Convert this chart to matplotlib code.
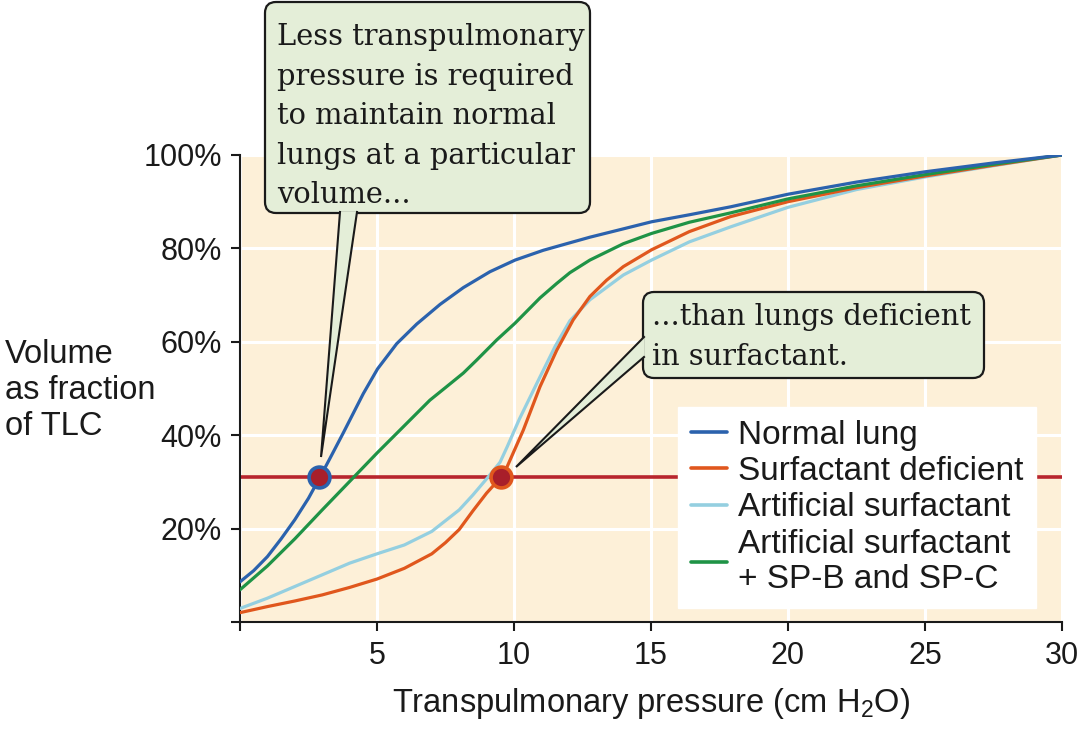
import matplotlib
matplotlib.use("Agg")
import matplotlib.pyplot as plt
from matplotlib.patches import FancyBboxPatch, Polygon
from matplotlib.lines import Line2D
from matplotlib.transforms import Affine2D

# ---------------- data ----------------
normal_x = [0, 0.5, 1, 1.5, 2, 2.5, 2.9, 3.28, 3.77, 4.1, 4.5, 5.02, 5.72, 6.45, 7.3, 8.15, 9.12, 10.04,
            11.07, 12.04, 12.77, 14, 15.02, 16.4, 17.9, 20, 22.5, 25, 27.5, 30]
normal_y = [8.6, 11, 14, 17.8, 21.9, 26.5, 30.8, 35.0, 40.5, 44.3, 48.9, 54.2, 59.6, 63.8, 68.0, 71.6, 75.0, 77.5,
            79.6, 81.2, 82.4, 84.2, 85.7, 87.2, 88.9, 91.6, 94.2, 96.4, 98.3, 100]

deficient_x = [0, 1, 2, 3, 4, 5, 6, 7, 7.5, 8, 8.5, 9, 9.54, 9.73, 10.34, 10.95, 11.56, 12.16, 12.77,
               13.38, 13.99, 15.02, 16.4, 17.9, 20, 22.5, 25, 27.5, 30]
deficient_y = [2, 3.3, 4.5, 5.8, 7.4, 9.2, 11.5, 14.6, 17, 19.8, 23.8, 27.6, 31.1, 33, 41.1, 50.4, 58.2, 64.7, 69.7,
               73.2, 76.1, 79.7, 83.6, 86.8, 90, 93, 95.5, 97.8, 100]

artificial_x = [0, 1, 2, 3, 4, 5, 6, 7, 8, 8.5, 9.05, 9.49, 9.75, 10.2, 10.95, 11.5, 12.04, 12.77,
                13.99, 15.02, 16.4, 17.9, 20, 22.5, 25, 27.5, 30]
artificial_y = [2.9, 5.1, 7.6, 10.1, 12.6, 14.6, 16.5, 19.4, 24, 27.2, 31, 34.2, 37.5, 43.5, 52.5, 59, 64.5, 69,
                74.3, 77.5, 81.4, 84.6, 88.8, 92.6, 95.3, 97.7, 100]

spbc_x = [0, 1, 2, 3, 4.15, 5.02, 5.72, 6.93, 7.5, 8.15, 8.64, 9.37, 10.04, 10.95, 11.56, 12.04, 12.77,
          13.99, 15.02, 16.4, 17.9, 20, 22.5, 25, 27.5, 30]
spbc_y = [6.9, 12, 17.8, 24, 31, 36.3, 40.4, 47.5, 50.2, 53.3, 56.1, 60.4, 64, 69.4, 72.5, 74.8, 77.5,
          81, 83.2, 85.6, 87.6, 90.6, 93.4, 95.8, 98, 100]

reference_volume = 31
marker_x = [2.9, 9.54]
marker_edges = ["#2b62ad", "#e0571d"]

series_labels = ["Normal lung", "Surfactant deficient", "Artificial surfactant",
                 "Artificial surfactant\n+ SP-B and SP-C"]
x_ticks = [0, 5, 10, 15, 20, 25, 30]
x_tick_labels = ["", "5", "10", "15", "20", "25", "30"]
y_ticks = [0, 20, 40, 60, 80, 100]
y_tick_labels = ["", "20%", "40%", "60%", "80%", "100%"]

callout1_lines = ["Less transpulmonary", "pressure is required", "to maintain normal",
                  "lungs at a particular", "volume..."]
callout2_lines = ["...than lungs deficient", "in surfactant."]

# ---------------- style ----------------
plt.rcParams['font.family'] = ['Liberation Sans', 'DejaVu Sans']
plt.rcParams['mathtext.fontset'] = 'custom'
plt.rcParams['mathtext.rm'] = 'Liberation Sans'
plt.rcParams['mathtext.it'] = 'Liberation Sans:italic'
plt.rcParams['mathtext.bf'] = 'Liberation Sans:bold'

W, H = 1080, 731
fig = plt.figure(figsize=(W / 100, H / 100), dpi=100)
fig.patch.set_facecolor("white")

x0, x1, ytop, ybot = 240, 1062, 155, 622
ax = fig.add_axes([x0 / W, (H - ybot) / H, (x1 - x0) / W, (ybot - ytop) / H])
ax.set_facecolor("#fdf0d8")
ax.set_xlim(0, 30)
ax.set_ylim(0, 100)

ax.set_xticks(x_ticks)
ax.set_xticklabels(x_tick_labels)
ax.set_yticks(y_ticks)
ax.set_yticklabels(y_tick_labels)
ax.grid(True, color="white", linewidth=2.2, zorder=0)
ax.set_axisbelow(True)
for s in ["top", "right"]:
    ax.spines[s].set_visible(False)
for s in ["left", "bottom"]:
    ax.spines[s].set_linewidth(1.5)
    ax.spines[s].set_color("#1a1a1a")
ax.tick_params(axis="both", direction="out", length=6.5, width=1.5, colors="#1a1a1a",
               labelsize=22, labelcolor="#1a1a1a")
ax.tick_params(axis="y", pad=6.5)
ax.tick_params(axis="x", pad=7)

ax.axhline(reference_volume, color="#b8252d", linewidth=2.6, zorder=2)

colors = ["#2b62ad", "#e0571d", "#94cfe0", "#1f9346"]
lw = 2.3
kw = dict(lw=lw, solid_capstyle="round", solid_joinstyle="round")
l_art, = ax.plot(artificial_x, artificial_y, color=colors[2], zorder=3, **kw)
l_def, = ax.plot(deficient_x, deficient_y, color=colors[1], zorder=4, **kw)
l_sp, = ax.plot(spbc_x, spbc_y, color=colors[3], zorder=4, **kw)
l_norm, = ax.plot(normal_x, normal_y, color=colors[0], zorder=5, **kw)

for mx, ec in zip(marker_x, marker_edges):
    ax.plot([mx], [reference_volume], marker="o", markersize=15, markerfacecolor="#a81f2a",
            markeredgecolor=ec, markeredgewidth=2.6, zorder=6, clip_on=False)

ax.set_xlabel(r"Transpulmonary pressure (cm H$_\mathrm{2}$O)", fontsize=23.5, color="#1a1a1a")
ax.xaxis.set_label_coords(0.5, -0.137)
ax.set_ylabel("Volume\nas fraction\nof TLC", fontsize=23.5, rotation=0, ha="left", va="center",
              multialignment="left", color="#1a1a1a", linespacing=1.22)
ax.yaxis.set_label_coords(-0.286, 0.496)

leg = ax.legend([l_norm, l_def, l_art, l_sp], series_labels, loc="upper left",
                bbox_to_anchor=(678 / W, 1 - 407 / H), bbox_transform=fig.transFigure,
                borderaxespad=0, frameon=True, fancybox=False, framealpha=1,
                edgecolor="white", facecolor="white", fontsize=24,
                handlelength=1.1, handletextpad=0.33, labelspacing=0.16,
                borderpad=0.38)
for line in leg.get_lines():
    line.set_linewidth(2.6)
for t in leg.get_texts():
    t.set_color("#1a1a1a")
    t.set_linespacing(1.19)

# ---------------- callouts (pixel layout) ----------------
px = Affine2D().scale(1 / W, -1 / H).translate(0, 1) + fig.transFigure
fill = "#e4eed8"
edge = "#1a1a1a"


def callout(box, tail, lines, text_x, baselines):
    bx, by, bw, bh = box
    fig.add_artist(FancyBboxPatch((bx, by), bw, bh, boxstyle="round,pad=0,rounding_size=11",
                                  transform=px, facecolor=fill, edgecolor=edge, linewidth=1.6, zorder=10))
    fig.add_artist(Polygon(tail, closed=True, transform=px, facecolor=fill, edgecolor="none", zorder=11))
    a, tip, b = tail
    fig.add_artist(Line2D([a[0], tip[0], b[0]], [a[1], tip[1], b[1]], transform=px,
                          color=edge, linewidth=1.5, zorder=12, solid_joinstyle="miter"))
    for line, yb in zip(lines, baselines):
        fig.text(text_x, yb, line, transform=px, fontsize=20.8, family="DejaVu Serif",
                 color="#1a1a1a", va="baseline", ha="left", zorder=13)


callout((265, 2, 325, 211), [(340, 212), (321, 457), (357, 212)], callout1_lines, 277,
        [45, 85, 124, 164, 203])
callout((643, 292, 341, 86), [(644, 337), (516, 467), (644, 357)], callout2_lines, 652,
        [325, 365])

fig.savefig("out.png", dpi=100)
